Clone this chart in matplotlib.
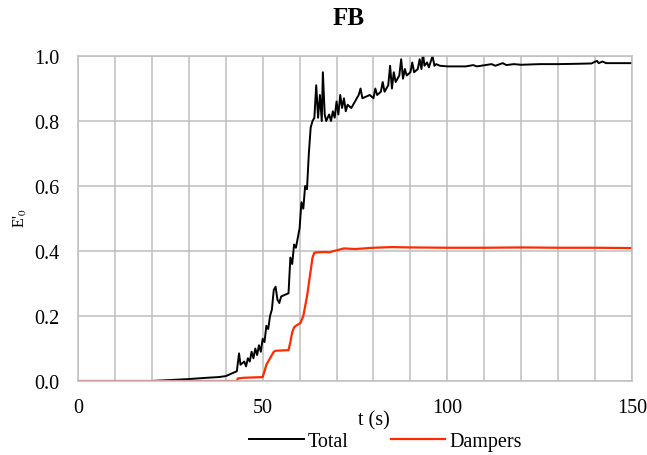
import matplotlib
matplotlib.use("Agg")
import matplotlib.pyplot as plt

plt.rcParams['font.family'] = ['Liberation Serif', 'DejaVu Serif']
plt.rcParams['mathtext.fontset'] = 'stix'

title = "FB"
x_label = "t (s)"
y_label = "E'$_0$"
series_names = ["Total", "Dampers"]

total_t = [0, 20, 25, 30, 35, 38, 40, 41, 42, 43, 43.6, 44, 45, 45.5, 46, 46.5, 47, 47.5,
           48, 48.5, 49, 49.5, 50, 50.5, 51, 51.5, 52, 52.5, 53, 53.5, 54, 54.5, 55, 56,
           57, 57.5, 58, 58.5, 59, 59.5, 60, 60.5, 61, 61.5, 62, 62.5, 63, 63.5, 64, 64.5,
           65, 65.5, 66, 66.3, 66.8, 67.2, 68, 68.5, 69, 69.5, 70, 70.5, 71, 71.5, 72, 72.5,
           73, 74, 75, 76, 76.5, 77, 78, 79, 80, 80.5, 81, 82, 82.5, 83, 84, 84.5, 85, 85.5,
           86, 87, 87.5, 88, 88.5, 89, 90, 90.5, 91, 92, 92.5, 93, 93.4, 93.8, 94.5, 95, 96,
           96.5, 97, 98, 100, 105, 107, 108, 112, 113, 115, 116, 118, 120, 125, 130, 135,
           139, 140.5, 141, 142, 143, 150]
total_v = [0, 0, 0.003, 0.006, 0.01, 0.012, 0.015, 0.02, 0.025, 0.03, 0.085, 0.05, 0.06, 0.045,
           0.07, 0.06, 0.09, 0.07, 0.1, 0.08, 0.11, 0.09, 0.13, 0.12, 0.17, 0.16, 0.2, 0.22,
           0.28, 0.29, 0.25, 0.24, 0.26, 0.265, 0.27, 0.38, 0.36, 0.42, 0.41, 0.44, 0.47, 0.55,
           0.53, 0.6, 0.59, 0.7, 0.78, 0.80, 0.81, 0.91, 0.81, 0.88, 0.80, 0.95, 0.82, 0.80,
           0.82, 0.80, 0.83, 0.81, 0.86, 0.82, 0.88, 0.84, 0.87, 0.83, 0.85, 0.84, 0.86, 0.88,
           0.90, 0.87, 0.875, 0.88, 0.87, 0.90, 0.88, 0.89, 0.92, 0.89, 0.91, 0.97, 0.90, 0.95,
           0.92, 0.94, 0.99, 0.93, 0.96, 0.94, 0.95, 0.98, 0.95, 0.96, 0.99, 0.96, 1.01, 0.97,
           0.98, 0.965, 1.0, 0.97, 0.975, 0.97, 0.968, 0.968, 0.972, 0.968, 0.975, 0.97, 0.978,
           0.972, 0.975, 0.973, 0.975, 0.975, 0.976, 0.977, 0.985, 0.978, 0.983, 0.978, 0.978]

damp_t = [0, 43, 43.3, 45, 50, 50.5, 51, 52, 53, 53.5, 57, 57.5, 58, 58.5, 59, 60.2, 61, 62,
          62.5, 63, 63.5, 64, 65, 67, 68, 70, 72, 75, 80, 85, 90, 100, 110, 120, 130, 140, 150]
damp_v = [0, 0, 0.008, 0.01, 0.012, 0.03, 0.05, 0.07, 0.09, 0.093, 0.095, 0.12, 0.15, 0.165,
          0.17, 0.178, 0.2, 0.26, 0.3, 0.34, 0.38, 0.395, 0.396, 0.397, 0.396, 0.402, 0.408,
          0.406, 0.41, 0.412, 0.411, 0.41, 0.41, 0.411, 0.41, 0.41, 0.409]

W, H = 647, 456
fig = plt.figure(figsize=(W / 100, H / 100), dpi=100)
ax = fig.add_axes([78 / W, 1 - 382 / H, (632 - 78) / W, (382 - 57) / H])

ax.plot(total_t, total_v, color='black', lw=1.4, label=series_names[0])
ax.plot(damp_t, damp_v, color='#ff2a00', lw=1.6, label=series_names[1])

ax.set_xlim(0, 150)
ax.set_ylim(0, 1.0)
ax.set_xticks([0, 50, 100, 150])
ax.set_xticks(range(0, 151, 10), minor=True)
yt = [0, 0.2, 0.4, 0.6, 0.8, 1.0]
ax.set_yticks(yt)
ax.set_yticklabels([f"{v:.1f}" for v in yt])
ax.grid(True, which='both', color='#bfbfbf', lw=1.1)
ax.set_axisbelow(True)
ax.tick_params(which='both', length=0, labelsize=14.5)
ax.tick_params(axis='y', pad=13.5)
ax.tick_params(axis='x', pad=12)
for s in ax.spines.values():
    s.set_color('#bfbfbf')
    s.set_linewidth(1.1)

fig.text(349 / W, 1 - 18.5 / H, title, fontsize=18, fontweight='bold', ha='center', va='center')
fig.text(374 / W, 1 - 421 / H, x_label, fontsize=14.5, ha='center', va='center')
fig.text(20 / W, 1 - 218 / H, y_label, fontsize=11.5, ha='center', va='center', rotation=90)

fig.legend(loc='center', bbox_to_anchor=(385.5 / W, 1 - 442 / H), ncol=2, frameon=False,
           fontsize=14.5, handlelength=2.7, handletextpad=0.2, columnspacing=2.1,
           borderpad=0)

fig.savefig('out.png', dpi=100)
